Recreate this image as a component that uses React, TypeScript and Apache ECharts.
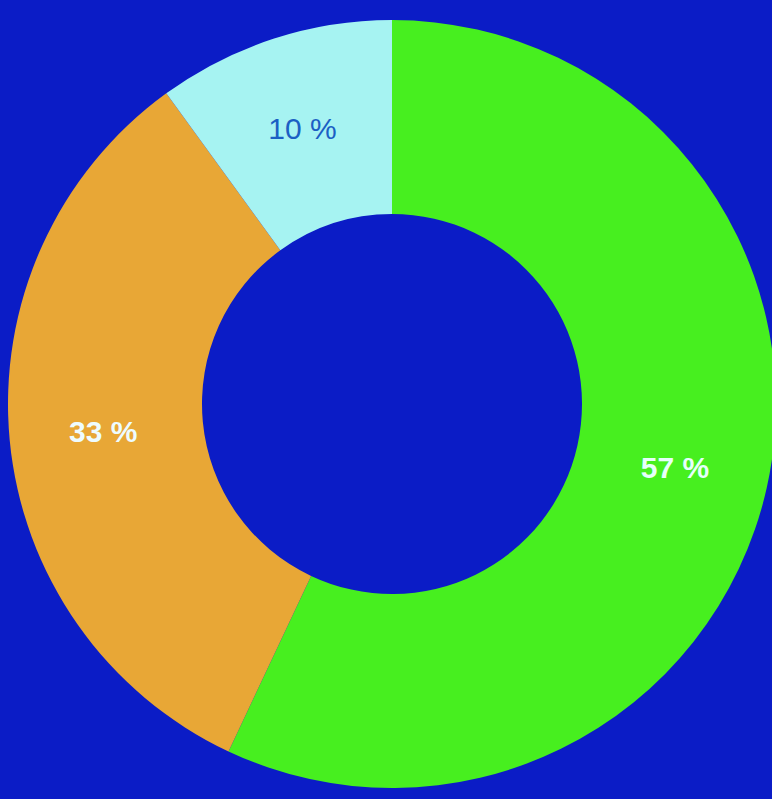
import React, { useEffect, useRef } from "react";
import * as echarts from "echarts";

const categories = ["A", "B", "C"];
const values = [57, 33, 10];
const sliceColors = ["#47ef1f", "#e8a736", "#a6f3f2"];
const labelColors = ["#e6fffb", "#eefcff", "#1b5fc4"];
const labelWeights = ["bold", "bold", "normal"];

export default function App() {
  const ref = useRef<HTMLDivElement>(null);
  useEffect(() => {
    if (!ref.current) return;
    const chart = echarts.init(ref.current, undefined, { renderer: "svg" });
    chart.setOption({
      animation: false,
      backgroundColor: "#0b1cc6",
      series: [
        {
          type: "pie",
          center: [392, 404],
          radius: [190, 384],
          startAngle: 90,
          clockwise: true,
          silent: true,
          avoidLabelOverlap: false,
          labelLine: { show: false },
          label: {
            show: true,
            position: "inside",
            formatter: "{c} %",
            fontSize: 30,
            fontFamily: "Liberation Sans, Arial, sans-serif",
          },
          itemStyle: { borderWidth: 0 },
          data: categories.map((name, i) => ({
            name,
            value: values[i],
            itemStyle: { color: sliceColors[i] },
            label: { color: labelColors[i], fontWeight: labelWeights[i] },
          })),
        },
      ],
    });
    return () => chart.dispose();
  }, []);
  return (
    <div
      ref={ref}
      style={{ position: "fixed", left: 0, top: 0, width: 772, height: 799 }}
    />
  );
}
